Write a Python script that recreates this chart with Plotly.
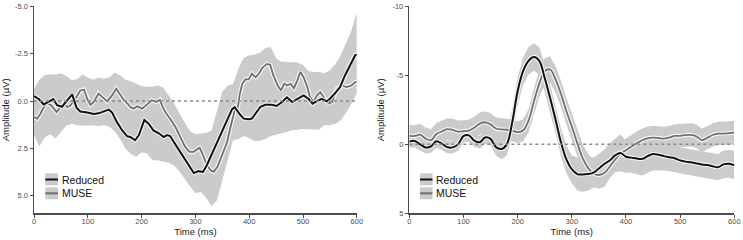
import numpy as np
import plotly.graph_objects as go

# ---------------- data: left panel ----------------
red_L_t = [0, 9, 18, 28, 36, 43, 52, 62, 71, 79, 86, 99, 111, 120, 130, 139, 145, 154, 164, 173,
           179, 188, 195, 201, 205, 213, 222, 232, 241, 247, 253, 263, 272, 281, 290, 297, 306, 314, 321, 331,
           340, 349, 359, 368, 373, 377, 384, 390, 399, 405, 412, 421, 430, 442, 451, 461, 470, 480, 489, 501,
           510, 518, 525, 535, 544, 550, 559, 569, 578, 588, 597, 600]
red_L_v = [-0.26, -0.1, 0.18, 0.0, -0.1, 0.22, 0.3, -0.05, -0.35, 0.35, 0.55, 0.6, 0.68, 0.65, 0.55, 0.45, 0.6, 1.1, 1.55, 1.85,
           1.9, 2.07, 1.8, 1.3, 1.0, 1.2, 1.55, 1.7, 1.9, 1.8, 1.85, 2.3, 2.7, 3.1, 3.55, 3.8, 3.7, 3.74, 3.4, 2.77,
           2.25, 1.63, 1.0, 0.44, 0.32, 0.5, 0.75, 0.93, 0.96, 0.93, 0.67, 0.3, 0.2, 0.2, 0.26, 0.05, -0.2, 0.05, -0.1, -0.3,
           -0.12, 0.14, 0.02, -0.12, 0.02, -0.12, -0.39, -0.74, -1.35, -1.96, -2.42, -2.44]

muse_L_t = [0, 6, 12, 18, 25, 31, 37, 42, 49, 55, 62, 68, 77, 86, 93, 99, 105, 111, 120, 127,
            136, 145, 153, 161, 167, 174, 179, 185, 192, 201, 210, 219, 227, 234, 238, 244, 253, 263, 272, 281,
            289, 297, 303, 308, 313, 320, 328, 334, 341, 349, 359, 366, 371, 374, 379, 382, 387, 393, 399, 405,
            412, 418, 424, 433, 439, 445, 453, 459, 465, 471, 477, 483, 489, 495, 501, 508, 513, 520, 526, 532,
            538, 546, 554, 563, 572, 581, 590, 597, 600]
muse_L_v = [0.84, 0.93, 0.67, 0.32, 0.14, 0.2, 0.4, 0.58, 0.32, 0.14, 0.32, 0.23, -0.12, -0.56, -0.6, -0.12, 0.2, 0.05, -0.39, -0.2,
            0.02, -0.3, -0.65, -0.3, -0.04, 0.14, 0.32, 0.4, 0.28, 0.4, 0.2, -0.04, 0.05, -0.07, 0.23, 0.58, 0.93, 1.37, 1.9, 2.42,
            2.68, 2.68, 2.55, 2.47, 2.77, 3.3, 3.65, 3.74, 3.47, 2.86, 2.16, 1.28, 0.67, 0.4, 0.32, -0.3, -0.91, -1.14, -1.14, -1.44,
            -1.26, -1.44, -1.74, -1.96, -1.91, -1.35, -0.82, -0.56, -0.91, -0.82, -0.91, -0.68, -1.05, -1.53, -1.26, -0.74, -0.21, 0.05, -0.3, -0.47,
            -0.21, 0.14, 0.05, -0.65, -0.82, -0.74, -0.82, -1.0, -1.0]

# confidence bands (left): outer edges on a 10 ms grid, inner edges on a coarse grid
band_L_t = list(range(0, 601, 10))
muse_L_lower = [-0.65, -1.12, -1.37, -1.42, -1.40, -1.47, -1.32, -1.11, -1.15, -1.40,
                -1.24, -1.12, -1.24, -1.18, -1.25, -1.50, -1.36, -1.12, -1.05, -0.93,
                -0.80, -0.75, -0.76, -0.82, -0.72, -0.32, 0.10, 0.65, 1.14, 1.60,
                1.75, 1.70, 1.68, 1.55, 0.50, -0.50, -0.82, -0.90, -1.70, -2.30,
                -2.40, -2.45, -2.55, -2.80, -2.85, -2.25, -2.08, -2.05, -2.05, -2.03,
                -1.90, -1.58, -1.53, -1.53, -1.47, -1.62, -1.95, -2.40, -3.05, -3.72,
                -4.68]
red_L_upper = [1.80, 2.40, 1.92, 1.75, 1.98, 1.65, 1.30, 1.20, 1.28, 1.30,
               1.30, 1.28, 1.32, 1.28, 1.36, 1.60, 2.00, 2.50, 2.80, 2.94,
               2.70, 2.77, 3.12, 3.12, 3.20, 3.25, 3.40, 3.70, 4.10, 4.50,
               4.85, 4.80, 5.10, 5.55, 5.25, 4.30, 3.10, 2.05, 2.00, 1.85,
               1.95, 2.12, 2.10, 2.00, 1.85, 1.78, 1.70, 1.63, 1.54, 1.52,
               1.48, 1.50, 1.50, 1.50, 1.28, 1.28, 1.20, 1.03, 0.62, 0.16,
               -0.40]
inner_L_t = [0, 100, 150, 200, 250, 300, 330, 360, 380, 400, 450, 500, 550, 600]
muse_L_upper = [0.5, 0.5, 0.6, 1.1, 1.4, 3.2, 3.7, 1.4, 0.2, 0.0, -0.1, -0.3, -0.1, -1.3]
red_L_lower = [0.1, 0.1, 0.2, 0.7, 1.0, 2.8, 3.3, 1.0, -0.2, -0.4, -0.5, -0.7, -0.5, -1.7]

# ---------------- data: right panel ----------------
time_R = list(range(0, 601, 10))
red_R_v = [-0.2, -0.25, 0.0, 0.22, 0.15, -0.22, -0.05, 0.2, 0.22, 0.0,
           -0.6, -0.65, -0.27, -0.15, -0.5, -0.4, 0.2, 0.33, 0.0, -1.6,
           -3.85, -5.3, -6.05, -6.33, -6.05, -4.8, -3.35, -1.8, -0.15, 1.09,
           1.8, 2.15, 2.18, 2.15, 2.05, 1.75, 1.42, 1.17, 0.8, 0.62,
           0.9, 0.96, 1.03, 1.05, 0.85, 0.7, 0.75, 0.85, 0.93, 1.0,
           1.16, 1.25, 1.3, 1.38, 1.45, 1.5, 1.58, 1.65, 1.45, 1.4,
           1.5]
red_R_se = [0.45] * 16 + [0.6, 0.75, 0.8] + [1.0] * 12 + \
           [1.2, 1.25, 1.2, 1.1, 1.05, 1.05, 1.25, 1.2, 1.35, 1.15,
            1.1, 1.15, 1.2, 1.2, 1.2, 1.15, 1.05, 1.0, 1.0, 0.95,
            0.95, 0.95, 0.95, 0.95, 0.95, 0.95, 0.95, 1.0, 1.0, 1.05]
muse_R_v = [-0.61, -0.61, -0.7, -0.42, -0.3, -0.75, -0.93, -1.1, -1.05, -0.92,
            -0.95, -1.0, -1.2, -1.5, -1.6, -1.45, -1.15, -1.08, -1.06, -1.0,
            -0.88, -1.0, -1.7, -3.1, -4.4, -5.3, -5.42, -4.7, -3.65, -2.4,
            -1.3, -0.1, 1.0, 1.7, 2.1, 2.22, 2.08, 1.6, 1.1, 0.66,
            0.42, 0.15, -0.08, -0.3, -0.44, -0.49, -0.46, -0.42, -0.5, -0.61,
            -0.62, -0.67, -0.68, -0.58, -0.3, -0.47, -0.68, -0.78, -0.78, -0.82,
            -0.85]
muse_R_se = [0.8] * 22 + [0.85] + [0.95] * 8 + [1.0] * 6 + [0.85] * 24

series_names = ["Reduced", "MUSE"]
left_yticks = [-5.0, -2.5, 0.0, 2.5, 5.0]
right_yticks = [-10, -5, 0, 5]
x_ticks = [0, 100, 200, 300, 400, 500, 600]

# ---------------- styling ----------------
W, H = 743, 240
BAND = "#cbcbcb"
COL = {"Reduced": "#111111", "MUSE": "#707070"}
HALO = "#f4f4f4"
AX = "#4d4d4d"
FONT = "Liberation Sans, Arial, sans-serif"

fig = go.Figure()


def band(t_lo, lo, t_hi, hi, xa, ya):
    xs = list(t_lo) + list(t_hi)[::-1]
    ys = list(lo) + list(hi)[::-1]
    fig.add_trace(go.Scatter(x=xs, y=ys, fill="toself", fillcolor=BAND, mode="lines",
                             line=dict(width=0, color=BAND), hoverinfo="skip",
                             showlegend=False, xaxis=xa, yaxis=ya))


def line(t, v, name, xa, ya, shape="linear"):
    fig.add_trace(go.Scatter(x=t, y=v, mode="lines", line=dict(color=HALO, width=4.2, shape=shape),
                             hoverinfo="skip", showlegend=False, xaxis=xa, yaxis=ya))
    fig.add_trace(go.Scatter(x=t, y=v, mode="lines", name=name,
                             line=dict(color=COL[name], width=2 if name == "Reduced" else 1.8, shape=shape),
                             showlegend=False, xaxis=xa, yaxis=ya))


# left bands
band(band_L_t, muse_L_lower, inner_L_t, muse_L_upper, "x", "y")
band(inner_L_t, red_L_lower, band_L_t, red_L_upper, "x", "y")
# right bands
rv, rs = np.array(red_R_v), np.array(red_R_se)
mv, ms = np.array(muse_R_v), np.array(muse_R_se)
band(time_R, mv - ms, time_R, mv + ms, "x2", "y2")
band(time_R, rv - rs, time_R, rv + rs, "x2", "y2")

# lines
line(muse_L_t, muse_L_v, "MUSE", "x", "y")
line(red_L_t, red_L_v, "Reduced", "x", "y")
line(time_R, muse_R_v, "MUSE", "x2", "y2", shape="spline")
line(time_R, red_R_v, "Reduced", "x2", "y2", shape="spline")

# zero reference lines
for xr, yr in (("x", "y"), ("x2", "y2")):
    fig.add_shape(type="line", xref=xr, yref=yr, x0=0, x1=600, y0=0, y1=0,
                  line=dict(color="#8a8a8a", width=1.5, dash="dot"), layer="above")

# manual legends (key box + line + label)
def legend_block(x0_px, x1_px, text_px):
    rows = [(173.3, 185.3, 179.5), (187.3, 199.3, 193.3)]
    for name, (ya, yb, yc) in zip(series_names, rows):
        fig.add_shape(type="rect", xref="paper", yref="paper",
                      x0=x0_px / W, x1=x1_px / W, y0=1 - yb / H, y1=1 - ya / H,
                      fillcolor=BAND, line=dict(width=0), layer="above")
        fig.add_shape(type="line", xref="paper", yref="paper",
                      x0=x0_px / W, x1=x1_px / W, y0=1 - yc / H, y1=1 - yc / H,
                      line=dict(color=COL[name], width=2), layer="above")
        fig.add_annotation(x=text_px / W, y=1 - yc / H, xref="paper", yref="paper",
                           text=name, showarrow=False, xanchor="left", yanchor="middle",
                           font=dict(family=FONT, size=10.5, color="#111111"))


legend_block(45.3, 58.0, 59.5)
legend_block(420.0, 432.5, 434.0)

ydom = [1 - 213.4 / H, 1 - 6.3 / H]
axis_common = dict(showline=True, linecolor=AX, linewidth=1.5, ticks="outside", ticklen=3,
                   tickwidth=1, tickcolor=AX, showgrid=False, zeroline=False, automargin=False,
                   tickfont=dict(family=FONT, size=7.5, color=AX))
xtitle = dict(text="Time (ms)", standoff=0, font=dict(family=FONT, size=9.5, color="#222222"))
ytitle = dict(text="Amplitude (µV)", standoff=6, font=dict(family=FONT, size=9.5, color="#222222"))

fig.update_layout(
    width=W, height=H, margin=dict(l=0, r=0, t=0, b=0, autoexpand=False),
    paper_bgcolor="white", plot_bgcolor="white", showlegend=False,
    xaxis=dict(domain=[34.0 / W, 356.8 / W], range=[0, 600], tickvals=x_ticks, title=xtitle,
               ticklabelstandoff=-3, anchor="y", **axis_common),
    yaxis=dict(domain=ydom, range=[5.93, -5], tickvals=left_yticks,
               ticktext=[f"{v:.1f}" for v in left_yticks], title=ytitle,
               anchor="x", **axis_common),
    xaxis2=dict(domain=[409.3 / W, 734.3 / W], range=[0, 600], tickvals=x_ticks, title=xtitle,
                ticklabelstandoff=-3, anchor="y2", **axis_common),
    yaxis2=dict(domain=ydom, range=[5, -10], tickvals=right_yticks,
                ticktext=[str(v) for v in right_yticks], title=ytitle,
                anchor="x2", **axis_common),
)

fig.write_html("out.html", config={"displayModeBar": False, "staticPlot": True},
               post_script="document.body.style.margin='0';document.body.style.overflow='hidden';")
